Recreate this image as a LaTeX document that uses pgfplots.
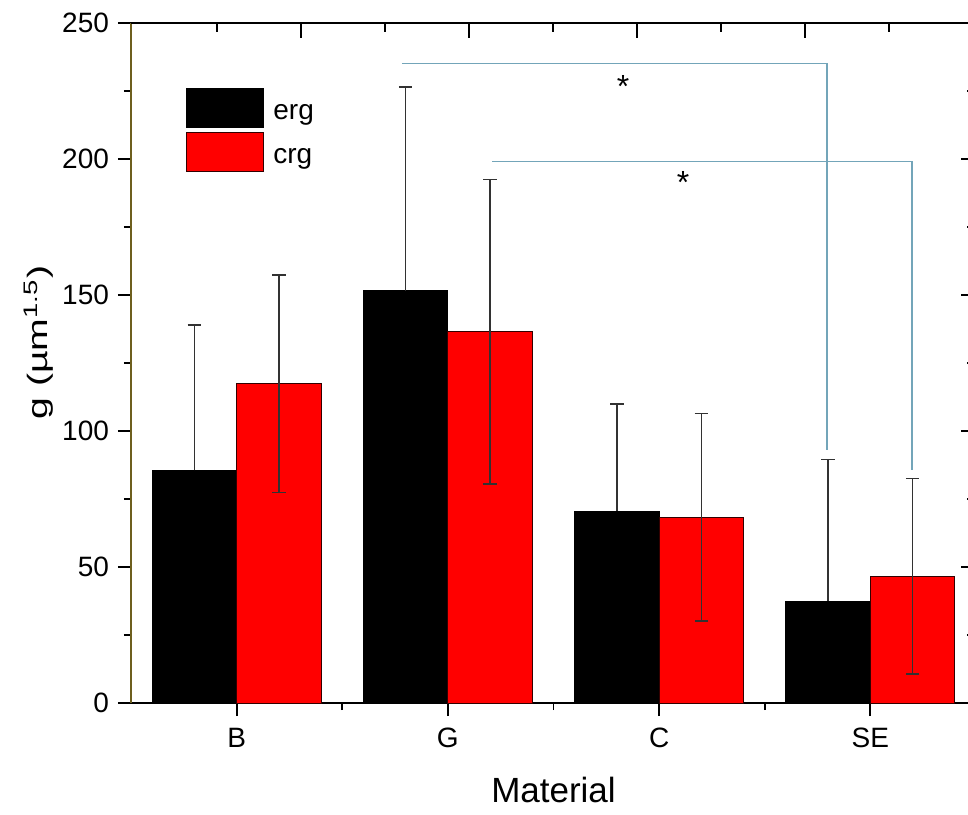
\documentclass[border=0pt]{standalone}
\usepackage{fontspec}
\setmainfont{Liberation Sans}
\usepackage{pgfplots}
\pgfplotsset{compat=1.18}
\definecolor{olivedark}{RGB}{110,95,30}
\definecolor{sigblue}{RGB}{115,165,185}
\definecolor{errgray}{RGB}{50,50,50}
\definecolor{barred}{RGB}{255,0,0}
\begin{document}
\begin{tikzpicture}
\begin{axis}[
  width=422.5pt, height=340pt, scale only axis,
  xmin=-0.5, xmax=3.5, ymin=0, ymax=250,
  axis x line*=bottom, axis y line*=left,
  x axis line style={black, line width=0.9pt, -},
  y axis line style={draw=olivedark, line width=0.9pt, -},
  xtick={0,1,2,3}, xticklabels={B,G,C,SE},
  minor xtick={0.5,1.5,2.5},
  ytick={0,50,...,250}, minor ytick={25,75,...,225},
  tick align=outside,
  major tick length=6.5pt, minor tick length=3.5pt,
  every tick/.style={black, line width=0.9pt},
  /pgf/number format/assume math mode=true,
  tick label style={font=\fontsize{14}{16}\selectfont},
  xticklabel style={yshift=-2.5pt},
  yticklabel style={xshift=-1pt},
  xlabel={Material},
  xlabel style={font=\fontsize{17.5}{20}\selectfont, at={(axis description cs:0.5,0)}, anchor=base, yshift=-49.5pt},
  ylabel={g (µm\textsuperscript{1.5})},
  ylabel style={font=\fontsize{14}{16}\selectfont, at={(axis description cs:-0.109,0.53)}, anchor=center, xscale=1.4},
  legend image code/.code={\draw[#1, line width=0.5pt] (0pt,-7pt) rectangle (38.5pt,12.5pt);},
  legend style={at={(axis description cs:0.0651,0.9044)}, anchor=north west, draw=none, fill=none, inner sep=0pt, row sep=2pt,
    font=\fontsize{14}{16}\selectfont, nodes={inner sep=0pt},
    /tikz/every odd column/.append style={column sep=4.5pt}},
  legend cell align=left,
]
\coordinate (O) at (rel axis cs:0,0);
\addplot[ybar, bar width=0.4, bar shift=0, fill=black, draw=black, line width=0.5pt,
  error bars/.cd, y dir=plus, y explicit,
  error bar style={errgray, line width=0.75pt},
  error mark options={errgray, rotate=90, mark size=3.4pt, line width=0.75pt}]
  coordinates {(-0.2,85.5) +- (0,53.5) (0.8,151.5) +- (0,75) (1.8,70.5) +- (0,39.5) (2.8,37.5) +- (0,52)};
\addlegendentry{erg}
\addplot[ybar, bar width=0.4, bar shift=0, fill=barred, draw=black!80!red, line width=0.5pt,
  error bars/.cd, y dir=both, y explicit,
  error bar style={errgray, line width=0.75pt},
  error mark options={errgray, rotate=90, mark size=3.4pt, line width=0.75pt}]
  coordinates {(0.2,117.3) +- (0,40) (1.2,136.5) +- (0,56) (2.2,68.3) +- (0,38.2) (3.2,46.6) +- (0,36)};
\addlegendentry{crg}
\addplot[forget plot, sharp plot, no marks, sigblue, line width=0.6pt] coordinates {(0.782,235) (2.795,235) (2.795,93)};
\addplot[forget plot, sharp plot, no marks, sigblue, line width=0.6pt] coordinates {(1.21,199) (3.197,199) (3.197,85.7)};
\node[anchor=base, inner sep=0pt, font=\fontsize{16}{18}\selectfont] at (axis cs:1.829,222.5) {*};
\node[anchor=base, inner sep=0pt, font=\fontsize{16}{18}\selectfont] at (axis cs:2.114,187.5) {*};
\end{axis}
\begin{axis}[
  width=422.5pt, height=340pt, scale only axis,
  xmin=131, xmax=976, ymin=0, ymax=250,
  axis x line*=top, axis y line*=right,
  axis line style={black, line width=0.9pt, -},
  xtick={301,469,637,805}, minor xtick={217,385,553,721,889},
  ytick={0,50,...,250}, minor ytick={25,75,...,225},
  xticklabels={}, yticklabels={},
  tick align=inside, major tick length=7.5pt, minor tick length=4.5pt,
  every tick/.style={black, line width=0.9pt},
]
\addplot[draw=none] coordinates {(131,0)};
\end{axis}
\pgfresetboundingbox
\useasboundingbox ([xshift=-65.5pt, yshift=-55.5pt]O) rectangle ([xshift=418.5pt, yshift=351.5pt]O);
\end{tikzpicture}
\end{document}
